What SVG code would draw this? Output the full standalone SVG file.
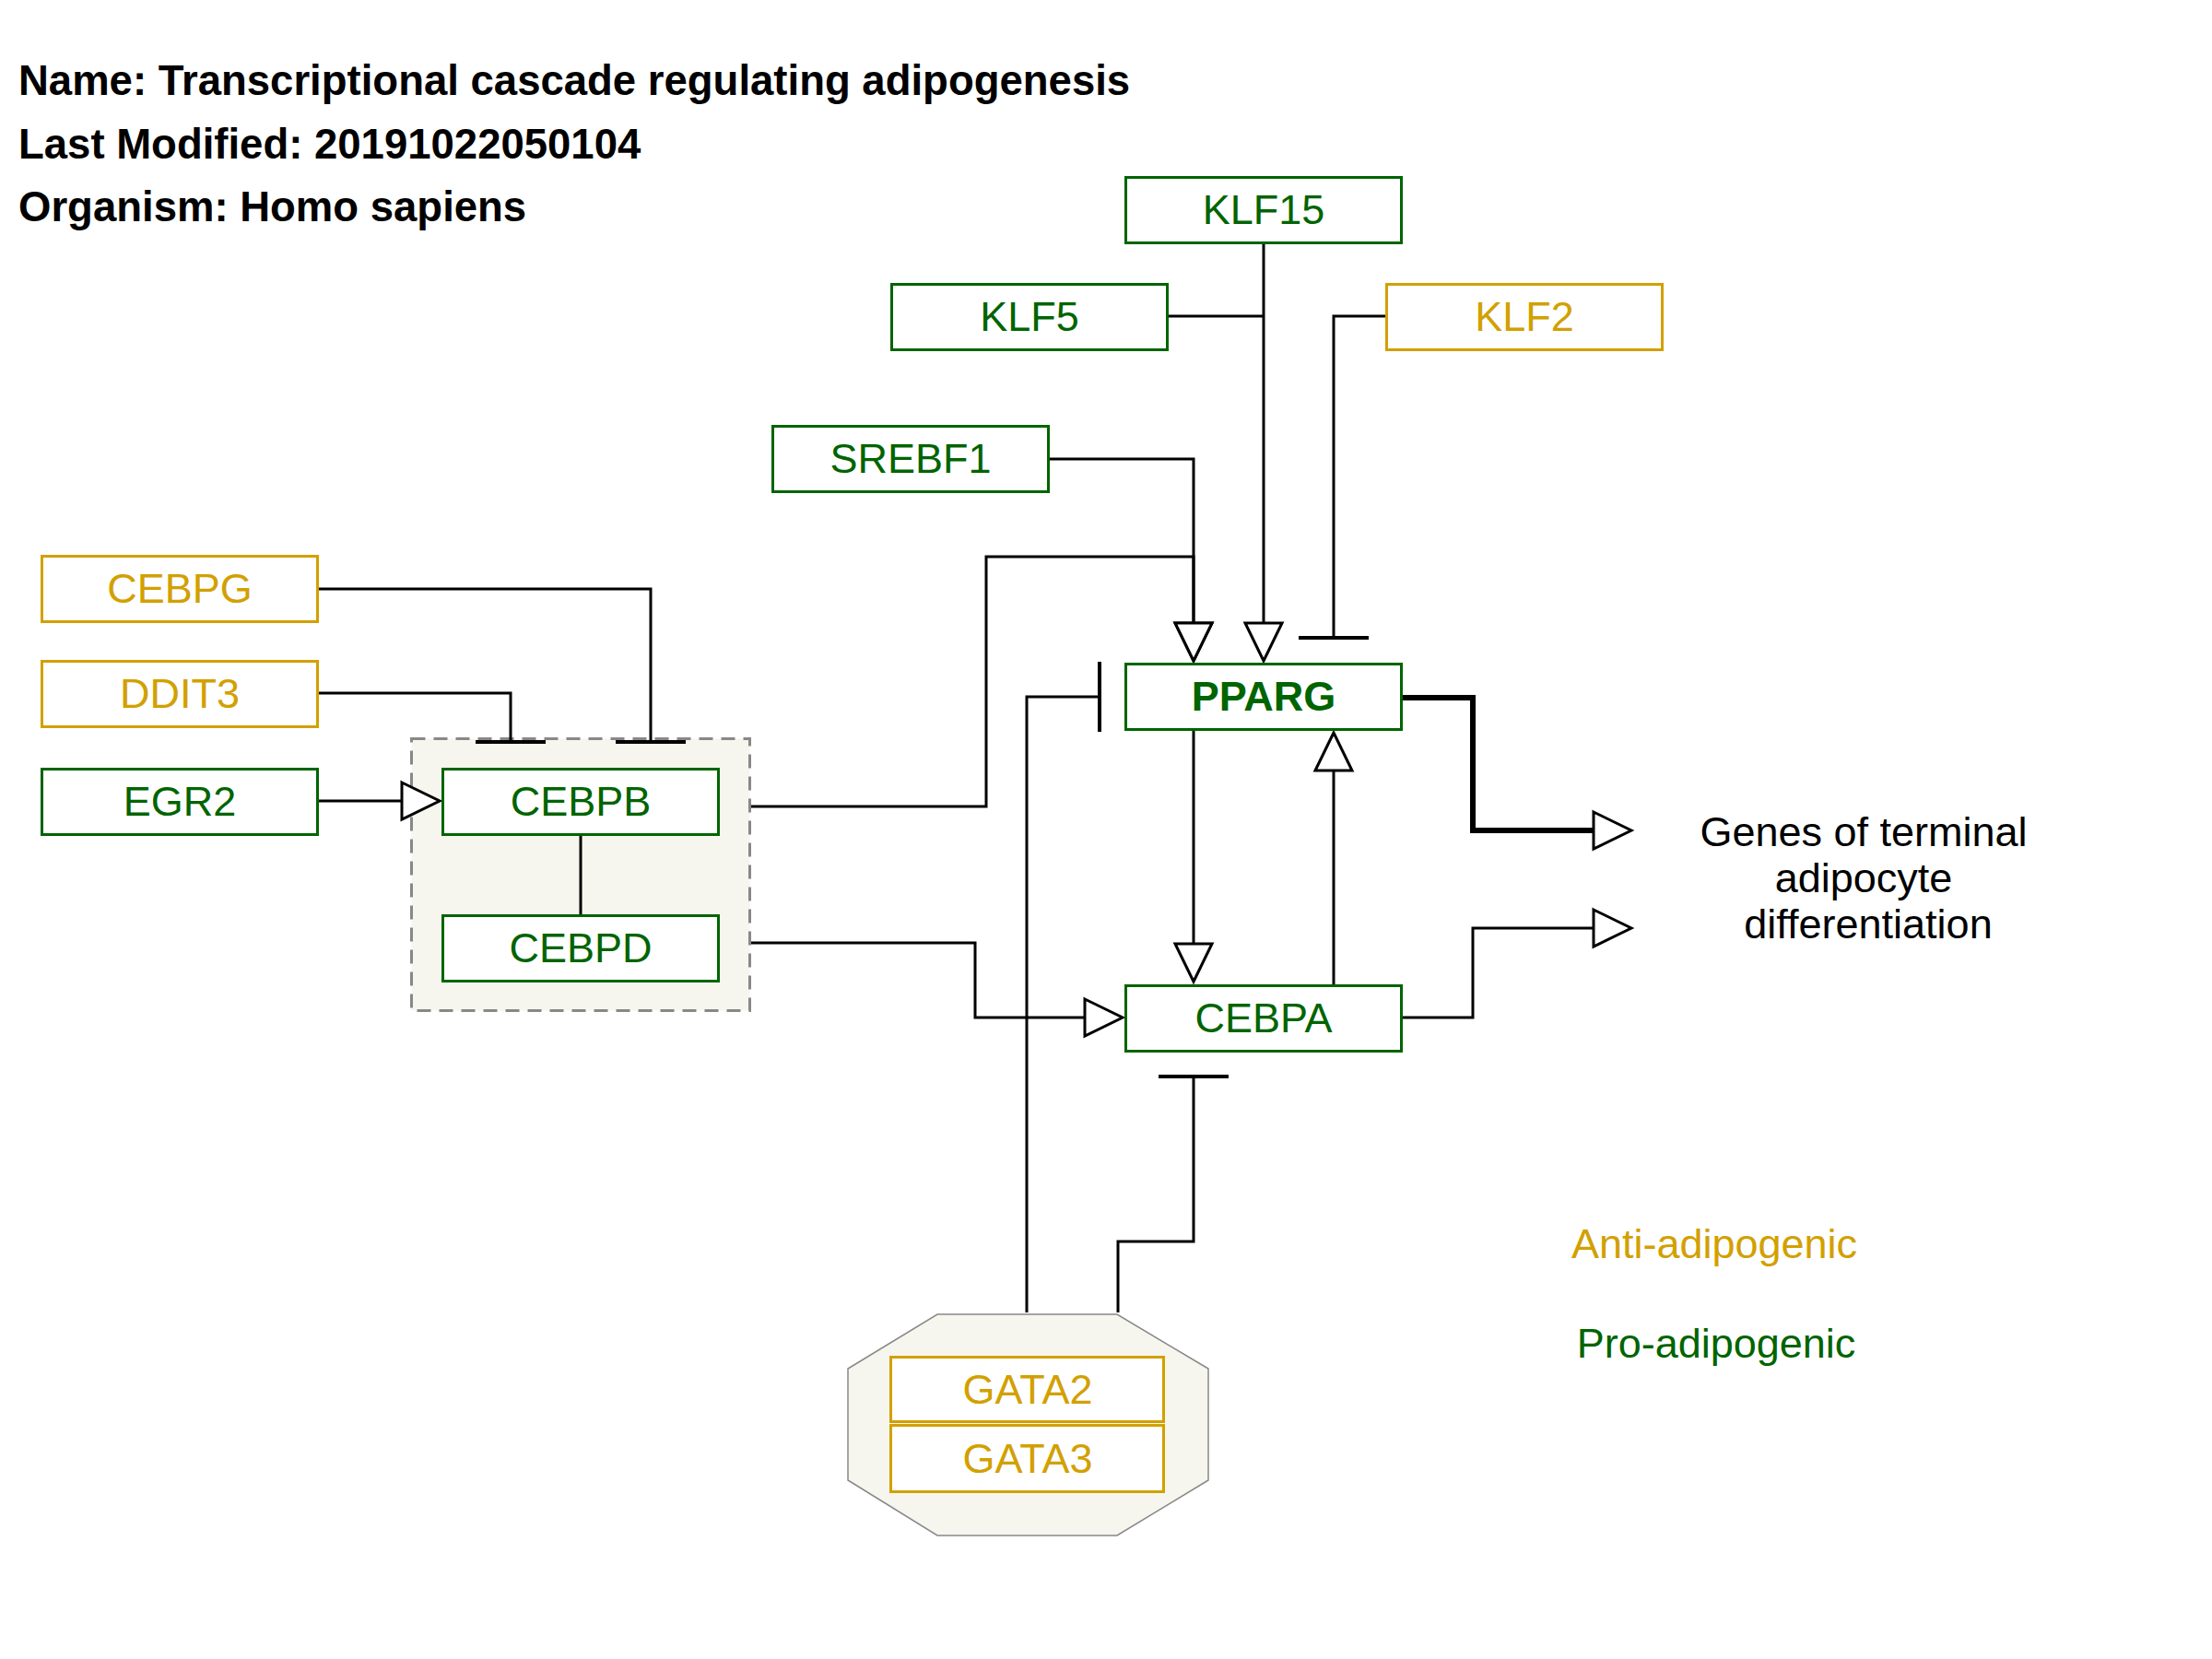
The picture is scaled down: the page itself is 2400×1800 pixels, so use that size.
<svg xmlns="http://www.w3.org/2000/svg" width="2400" height="1800" viewBox="0 0 2400 1800">
<defs>
<style>
.bg{fill:#ffffff}
.title{font-family:"Liberation Sans",Arial,sans-serif;font-size:45.5px;font-weight:bold;fill:#000000}
.lbl{font-family:"Liberation Sans",Arial,sans-serif;font-size:45px;text-anchor:middle}
.gold{fill:#d2a000}
.green{fill:#006400}
.txt{fill:#000000}
.boxg{fill:#ffffff;stroke:#006400;stroke-width:3}
.boxy{fill:#ffffff;stroke:#d2a000;stroke-width:3}
.grp{fill:#f6f6ee;stroke:#888888;stroke-width:3;stroke-dasharray:15,9}
.cplx{fill:#f6f6ee;stroke:#888888;stroke-width:1.5}
.edge{fill:none;stroke:#000000;stroke-width:3}
.thick{stroke-width:6}
</style>
<marker id="arr" markerUnits="userSpaceOnUse" markerWidth="50" markerHeight="50" refX="0" refY="0" orient="auto" overflow="visible">
<path d="M0,-20 L41,0 L0,20 Z" fill="#ffffff" stroke="#000000" stroke-width="3" stroke-linejoin="miter"/>
</marker>
<marker id="tbar" markerUnits="userSpaceOnUse" markerWidth="10" markerHeight="80" refX="0" refY="0" orient="auto" overflow="visible">
<path d="M0,-38 L0,38" fill="none" stroke="#000000" stroke-width="4"/>
</marker>
</defs>
<rect class="bg" x="0" y="0" width="2400" height="1800"/>

<g id="header">
<text class="title" x="20" y="103">Name: Transcriptional cascade regulating adipogenesis</text>
<text class="title" x="20" y="172">Last Modified: 20191022050104</text>
<text class="title" x="20" y="240">Organism: Homo sapiens</text>
</g>

<g id="group-cebpb-cebpd">
<rect class="grp" x="446.5" y="801.5" width="367" height="295"/>
</g>
<g id="complex-gata">
<polygon class="cplx" points="1017,1426 1212,1426 1311,1485 1311,1606 1212,1666 1017,1666 920,1606 920,1485"/>
</g>

<g id="connectors">
<path class="edge" d="M346,639 H706 V805" marker-end="url(#tbar)"/>
<path class="edge" d="M346,752 H554 V805" marker-end="url(#tbar)"/>
<path class="edge" d="M346,869 H436" marker-end="url(#arr)"/>
<path class="edge" d="M630,907 V992"/>
<path class="edge" d="M815,875 H1070 V604 H1295 V676" marker-end="url(#arr)"/>
<path class="edge" d="M1139,498 H1295 V676" marker-end="url(#arr)"/>
<path class="edge" d="M1371,264 V676" marker-end="url(#arr)"/>
<path class="edge" d="M1268,343 H1371"/>
<path class="edge" d="M1503,343 H1447 V692" marker-end="url(#tbar)"/>
<path class="edge" d="M1295,793 V1024" marker-end="url(#arr)"/>
<path class="edge" d="M1447,1068 V836" marker-end="url(#arr)"/>
<path class="edge" d="M815,1023 H1058 V1104 H1177" marker-end="url(#arr)"/>
<path class="edge" d="M1114,1424 V756 H1193" marker-end="url(#tbar)"/>
<path class="edge" d="M1213,1424 V1347 H1295 V1168" marker-end="url(#tbar)"/>
<path class="edge thick" d="M1522,757 H1598 V901 H1729" marker-end="url(#arr)"/>
<path class="edge" d="M1522,1104 H1598 V1007 H1729" marker-end="url(#arr)"/>
</g>

<g id="KLF15"><rect class="boxg" x="1221.5" y="192.5" width="299" height="71"/><text class="lbl green" x="1371" y="243">KLF15</text></g>
<g id="KLF5"><rect class="boxg" x="967.5" y="308.5" width="299" height="71"/><text class="lbl green" x="1117" y="359">KLF5</text></g>
<g id="KLF2"><rect class="boxy" x="1504.5" y="308.5" width="299" height="71"/><text class="lbl gold" x="1654" y="359">KLF2</text></g>
<g id="SREBF1"><rect class="boxg" x="838.5" y="462.5" width="299" height="71"/><text class="lbl green" x="988" y="513">SREBF1</text></g>
<g id="CEBPG"><rect class="boxy" x="45.5" y="603.5" width="299" height="71"/><text class="lbl gold" x="195" y="654">CEBPG</text></g>
<g id="DDIT3"><rect class="boxy" x="45.5" y="717.5" width="299" height="71"/><text class="lbl gold" x="195" y="768">DDIT3</text></g>
<g id="EGR2"><rect class="boxg" x="45.5" y="834.5" width="299" height="71"/><text class="lbl green" x="195" y="885">EGR2</text></g>
<g id="CEBPB"><rect class="boxg" x="480.5" y="834.5" width="299" height="71"/><text class="lbl green" x="630" y="885">CEBPB</text></g>
<g id="CEBPD"><rect class="boxg" x="480.5" y="993.5" width="299" height="71"/><text class="lbl green" x="630" y="1044">CEBPD</text></g>
<g id="PPARG"><rect class="boxg" x="1221.5" y="720.5" width="299" height="71"/><text class="lbl green" x="1371" y="771" font-weight="bold">PPARG</text></g>
<g id="CEBPA"><rect class="boxg" x="1221.5" y="1069.5" width="299" height="71"/><text class="lbl green" x="1371" y="1120">CEBPA</text></g>
<g id="GATA2"><rect class="boxy" x="966.5" y="1472.5" width="296" height="70"/><text class="lbl gold" x="1115" y="1523">GATA2</text></g>
<g id="GATA3"><rect class="boxy" x="966.5" y="1546.5" width="296" height="72"/><text class="lbl gold" x="1115" y="1598">GATA3</text></g>

<g id="genes-label">
<text class="lbl txt" x="2022" y="918">Genes of terminal</text>
<text class="lbl txt" x="2022" y="968">adipocyte</text>
<text class="lbl txt" x="2027" y="1018">differentiation</text>
</g>
<g id="legend">
<text class="lbl gold" x="1860" y="1365">Anti-adipogenic</text>
<text class="lbl green" x="1862" y="1473">Pro-adipogenic</text>
</g>
</svg>
